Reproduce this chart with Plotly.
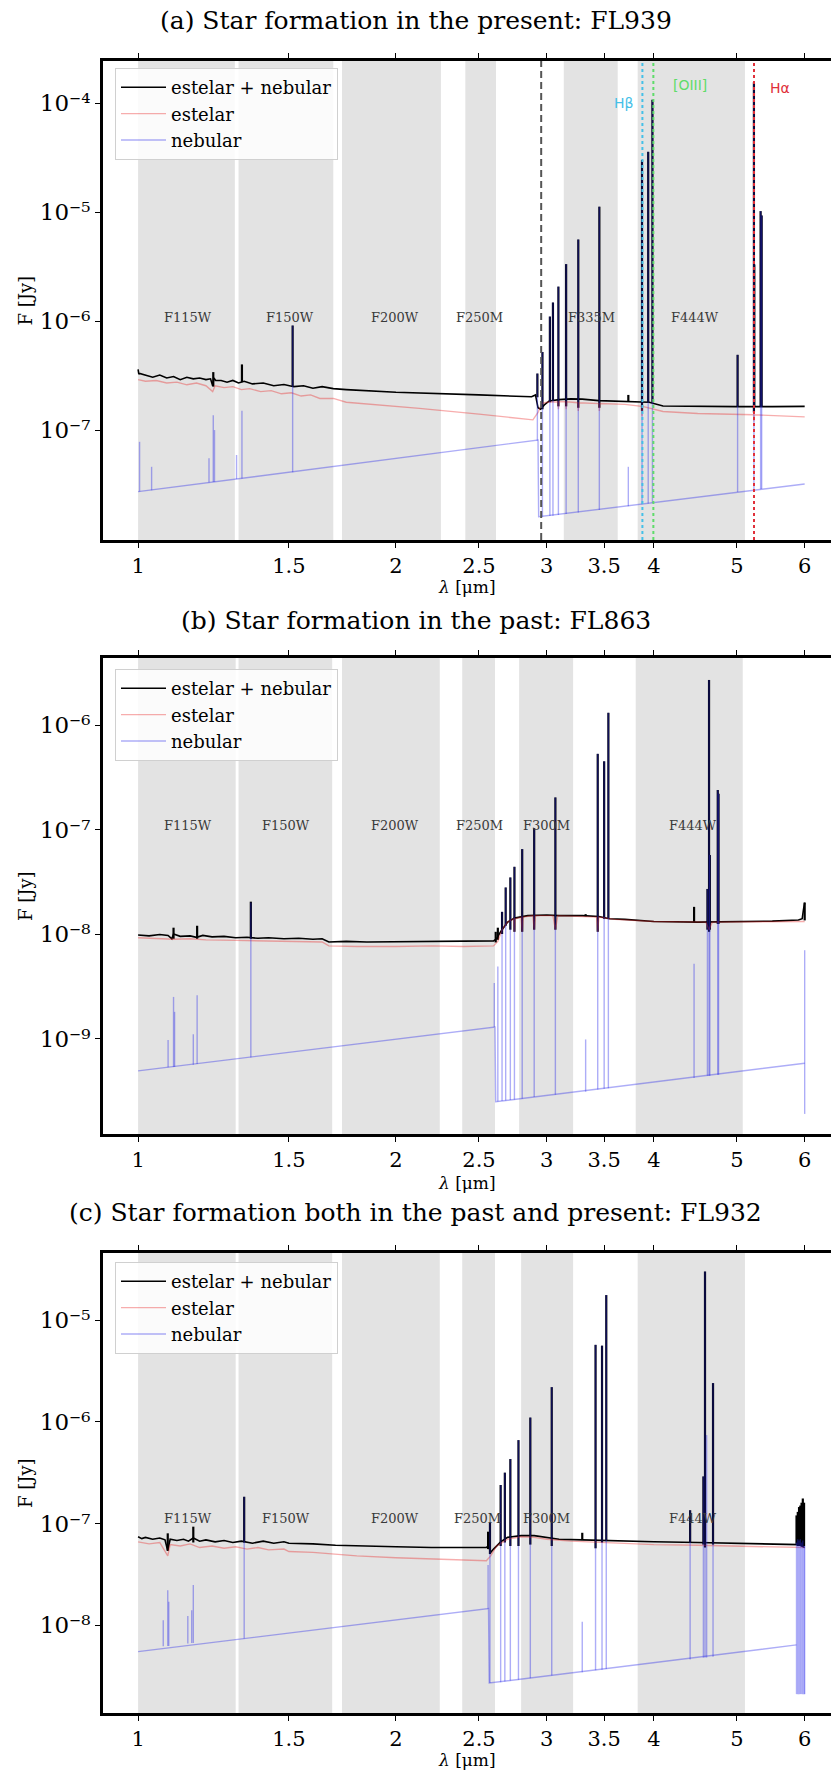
import math
import plotly.graph_objects as go

W, H = 831, 1791

# ---------------- common ----------------
X_LIMITS = [0.91, 6.44]
X_TICKS = [1, 1.5, 2, 2.5, 3, 3.5, 4, 5, 6]
X_TICKTEXT = ["1", "1.5", "2", "2.5", "3", "3.5", "4", "5", "6"]
LEGEND_NAMES = ["estelar + nebular", "estelar", "nebular"]
TITLES = ["(a) Star formation in the present: FL939",
          "(b) Star formation in the past: FL863",
          "(c) Star formation both in the past and present: FL932"]

# ---------------- panel a : FL939 ----------------
A_YLIM = [9.8e-9, 2.43e-4]
A_YTICKS = [1e-7, 1e-6, 1e-5, 1e-4]
A_BAND_LO = [1.0, 1.31, 1.73, 2.41, 3.14, 3.83]
A_BAND_HI = [1.297, 1.69, 2.257, 2.617, 3.63, 5.11]
A_BAND_NAME = ["F115W", "F150W", "F200W", "F250M", "F335M", "F444W"]
A_BAND_LX = [1.144, 1.504, 1.994, 2.506, 3.387, 4.467]
A_BAND_LY = 1.07e-6

A_TOT_WL = [1.000, 1.002, 1.004, 1.02, 1.04, 1.06, 1.08, 1.10, 1.12, 1.14, 1.16, 1.18, 1.20,
            1.215, 1.222, 1.226, 1.232, 1.25, 1.27, 1.29, 1.31, 1.33, 1.36, 1.40, 1.44, 1.48,
            1.52, 1.56, 1.60, 1.64, 1.69, 1.75, 2.0, 2.5, 2.88, 2.91, 2.93, 2.95, 2.98, 3.02,
            3.1, 3.2, 3.3, 3.45, 3.6, 3.8, 3.95, 4.1, 4.5, 5.0, 5.5, 6.0]
A_TOT_F = [3.6e-7, 3.25e-7, 3.3e-7, 3.2e-7, 3.05e-7, 3.2e-7, 3.0e-7, 3.1e-7, 2.9e-7, 3.05e-7,
           2.95e-7, 3.0e-7, 2.9e-7, 2.95e-7, 2.55e-7, 3.0e-7, 2.85e-7, 2.85e-7, 2.75e-7, 2.85e-7,
           2.7e-7, 2.8e-7, 2.65e-7, 2.7e-7, 2.55e-7, 2.62e-7, 2.5e-7, 2.55e-7, 2.42e-7, 2.5e-7,
           2.4e-7, 2.35e-7, 2.22e-7, 2.1e-7, 2.02e-7, 2.1e-7, 1.6e-7, 1.55e-7, 1.7e-7, 1.85e-7,
           1.9e-7, 1.93e-7, 1.92e-7, 1.86e-7, 1.85e-7, 1.83e-7, 1.8e-7, 1.66e-7, 1.64e-7, 1.64e-7,
           1.64e-7, 1.65e-7]
A_STE_WL = [1.0, 1.02, 1.05, 1.08, 1.11, 1.14, 1.17, 1.20, 1.222, 1.23, 1.26, 1.29, 1.32, 1.35,
            1.39, 1.43, 1.47, 1.51, 1.55, 1.59, 1.63, 1.69, 1.75, 2.0, 2.13, 2.5, 2.89, 2.93,
            2.96, 3.0, 3.09, 3.095, 3.10, 3.155, 3.16, 3.165, 3.26, 3.265, 3.27, 3.45, 3.455,
            3.46, 3.7, 3.87, 3.875, 3.88, 4.1, 4.5, 5.0, 5.23, 5.235, 5.24, 6.0]
A_STE_F = [2.9e-7, 2.8e-7, 2.85e-7, 2.7e-7, 2.75e-7, 2.6e-7, 2.7e-7, 2.55e-7, 2.25e-7, 2.55e-7,
           2.45e-7, 2.5e-7, 2.35e-7, 2.4e-7, 2.25e-7, 2.3e-7, 2.15e-7, 2.2e-7, 2.05e-7, 2.1e-7,
           1.95e-7, 1.95e-7, 1.8e-7, 1.65e-7, 1.58e-7, 1.4e-7, 1.24e-7, 1.45e-7, 1.75e-7, 1.8e-7,
           1.82e-7, 1.55e-7, 1.82e-7, 1.82e-7, 1.55e-7, 1.82e-7, 1.78e-7, 1.5e-7, 1.78e-7,
           1.75e-7, 1.5e-7, 1.75e-7, 1.72e-7, 1.65e-7, 1.35e-7, 1.65e-7, 1.48e-7, 1.42e-7,
           1.4e-7, 1.38e-7, 1.2e-7, 1.38e-7, 1.32e-7]
A_NEB_WL = [1.0, 2.93, 2.935, 6.0]
A_NEB_F = [2.72e-8, 8.1e-8, 1.6e-8, 3.2e-8]
A_NEBLINE_WL = [1.004, 1.037, 1.21, 1.224, 1.228, 1.303, 1.322, 1.515, 2.925, 2.965, 3.025,
                3.05, 3.095, 3.16, 3.265, 3.455, 3.735, 3.875, 3.94, 3.985, 5.01, 5.235,
                5.33, 5.345]
A_NEBLINE_BASE = [2.73e-8, 2.8e-8, 3.3e-8, 3.33e-8, 3.34e-8, 3.55e-8, 3.6e-8, 4.1e-8, 8.0e-8,
                  1.6e-8, 1.63e-8, 1.64e-8, 1.66e-8, 1.7e-8, 1.75e-8, 1.85e-8, 2.0e-8, 2.08e-8,
                  2.12e-8, 2.14e-8, 2.7e-8, 2.82e-8, 2.87e-8, 2.88e-8]
A_NEBLINE_PEAK = [7.8e-8, 4.6e-8, 5.5e-8, 1.37e-7, 1.0e-7, 5.9e-8, 1.5e-7, 9.1e-7, 3.3e-7,
                  5.2e-7, 1.1e-6, 1.48e-6, 2.07e-6, 3.33e-6, 5.6e-6, 1.12e-5, 4.6e-8, 3.0e-5,
                  3.57e-5, 1.07e-4, 4.9e-7, 1.55e-4, 1.02e-5, 9.3e-6]
A_TOTLINE_WL = [1.224, 1.322, 1.515, 2.925, 2.965, 3.025, 3.05, 3.095, 3.16, 3.265, 3.455,
                3.735, 3.875, 3.94, 3.985, 5.01, 5.235, 5.24, 5.33, 5.345]
A_TOTLINE_BASE = [2.5e-7, 2.75e-7, 2.5e-7, 2.0e-7, 1.55e-7, 1.8e-7, 1.85e-7, 1.65e-7, 1.65e-7,
                  1.6e-7, 1.6e-7, 1.84e-7, 1.5e-7, 1.8e-7, 1.8e-7, 1.64e-7, 1.45e-7, 1.64e-7,
                  1.64e-7, 1.64e-7]
A_TOTLINE_PEAK = [3.4e-7, 4.0e-7, 9.1e-7, 3.3e-7, 5.2e-7, 1.1e-6, 1.48e-6, 2.07e-6, 3.33e-6,
                  5.6e-6, 1.12e-5, 2.1e-7, 3.0e-5, 3.57e-5, 1.07e-4, 4.9e-7, 1.55e-4, 3.3e-6,
                  1.02e-5, 9.3e-6]
A_BREAK_WL = 2.955
A_MARK_WL = [3.879, 3.995, 5.236]
A_MARK_NAME = ["Hβ", "[OIII]", "Hα"]
A_MARK_COLOR = ["#45c0e8", "#5fdc6a", "#e0303a"]
A_MARK_LX = [3.69, 4.41, 5.61]
A_MARK_LY = [1.0e-4, 1.46e-4, 1.37e-4]

# ---------------- panel b : FL863 ----------------
B_YLIM = [1.22e-10, 4.38e-6]
B_YTICKS = [1e-9, 1e-8, 1e-7, 1e-6]
B_BAND_LO = [1.0, 1.31, 1.73, 2.39, 2.785, 3.81]
B_BAND_HI = [1.30, 1.685, 2.25, 2.61, 3.22, 5.08]
B_BAND_NAME = ["F115W", "F150W", "F200W", "F250M", "F300M", "F444W"]
B_BAND_LX = [1.144, 1.49, 1.994, 2.506, 3.0, 4.44]
B_BAND_LY = 1.1e-7

B_TOT_WL = [1.0, 1.03, 1.06, 1.084, 1.095, 1.10, 1.12, 1.15, 1.17, 1.19, 1.22, 1.26, 1.30,
            1.34, 1.38, 1.42, 1.48, 1.54, 1.60, 1.64, 1.67, 1.75, 1.85, 2.0, 2.13, 2.3, 2.5,
            2.6, 2.62, 2.65, 2.7, 2.75, 2.85, 3.0, 3.1, 3.3, 3.45, 3.55, 3.7, 4.0, 4.5, 5.0,
            5.5, 5.9, 5.96, 5.98, 6.0]
B_TOT_F = [9.8e-9, 9.6e-9, 9.9e-9, 9.7e-9, 9.0e-9, 1.0e-8, 9.5e-9, 9.6e-9, 9.3e-9, 9.7e-9,
           9.4e-9, 9.5e-9, 9.2e-9, 9.3e-9, 9.1e-9, 9.2e-9, 9.0e-9, 9.1e-9, 8.9e-9, 9.0e-9,
           8.4e-9, 8.5e-9, 8.4e-9, 8.45e-9, 8.5e-9, 8.5e-9, 8.5e-9, 8.6e-9, 9.0e-9, 1.05e-8,
           1.3e-8, 1.42e-8, 1.5e-8, 1.52e-8, 1.5e-8, 1.5e-8, 1.47e-8, 1.4e-8, 1.38e-8, 1.32e-8,
           1.3e-8, 1.31e-8, 1.33e-8, 1.36e-8, 1.4e-8, 1.7e-8, 2.0e-8]
B_STE_WL = [1.0, 1.05, 1.1, 1.15, 1.2, 1.3, 1.4, 1.5, 1.64, 1.67, 1.8, 2.0, 2.2, 2.4, 2.6,
            2.63, 2.66, 2.70, 2.745, 2.75, 2.755, 2.80, 2.808, 2.815, 2.89, 2.90, 2.91, 3.05,
            3.07, 3.09, 3.3, 3.43, 3.44, 3.45, 3.6, 4.0, 4.6, 4.64, 4.68, 5.0, 5.5, 6.0]
B_STE_F = [9.2e-9, 9.1e-9, 8.9e-9, 9.0e-9, 8.8e-9, 8.7e-9, 8.6e-9, 8.5e-9, 8.4e-9, 7.7e-9,
           7.6e-9, 7.6e-9, 7.7e-9, 7.6e-9, 7.7e-9, 8.5e-9, 1.1e-8, 1.3e-8, 1.4e-8, 1.05e-8,
           1.4e-8, 1.45e-8, 1.05e-8, 1.45e-8, 1.5e-8, 1.1e-8, 1.5e-8, 1.5e-8, 1.1e-8, 1.5e-8,
           1.48e-8, 1.45e-8, 1.05e-8, 1.45e-8, 1.38e-8, 1.32e-8, 1.3e-8, 1.1e-8, 1.3e-8, 1.3e-8,
           1.32e-8, 1.32e-8]
B_NEB_WL = [1.0, 2.61, 2.615, 6.0]
B_NEB_F = [4.9e-10, 1.29e-9, 2.48e-10, 5.8e-10]
B_NEBLINE_WL = [1.084, 1.10, 1.103, 1.16, 1.172, 1.354, 2.605, 2.63, 2.66, 2.686, 2.72, 2.75,
                2.808, 2.90, 3.07, 3.33, 3.44, 3.50, 3.54, 4.457, 4.62, 4.64, 4.65, 4.75, 4.76,
                6.0]
B_NEBLINE_BASE = [5.3e-10, 5.35e-10, 5.35e-10, 5.6e-10, 5.7e-10, 6.6e-10, 1.29e-9, 2.5e-10,
                  2.52e-10, 2.55e-10, 2.58e-10, 2.6e-10, 2.65e-10, 2.75e-10, 2.9e-10, 3.1e-10,
                  3.25e-10, 3.3e-10, 3.35e-10, 4.2e-10, 4.4e-10, 4.4e-10, 4.4e-10, 4.5e-10,
                  4.5e-10, 1.9e-10]
B_NEBLINE_PEAK = [9.7e-10, 2.5e-9, 1.8e-9, 1.1e-9, 2.6e-9, 2.0e-8, 3.4e-9, 4.9e-9, 1.63e-8,
                  2.79e-8, 3.48e-8, 4.4e-8, 6.5e-8, 1.03e-7, 2.03e-7, 9.8e-10, 5.3e-7, 4.5e-7,
                  1.31e-6, 5.2e-9, 2.7e-8, 2.7e-6, 5.7e-8, 2.39e-7, 2.2e-7, 7.0e-9]
B_TOTLINE_WL = [1.10, 1.172, 1.354, 2.615, 2.63, 2.66, 2.686, 2.72, 2.75, 2.808, 2.90, 3.07,
                3.33, 3.44, 3.50, 3.54, 4.457, 4.62, 4.64, 4.65, 4.75, 4.76, 6.0]
B_TOTLINE_BASE = [9.0e-9, 9.0e-9, 9.0e-9, 8.3e-9, 8.8e-9, 1.0e-8, 1.2e-8, 1.1e-8, 1.05e-8,
                  1.05e-8, 1.1e-8, 1.1e-8, 1.48e-8, 1.05e-8, 1.4e-8, 1.4e-8, 1.3e-8, 1.1e-8,
                  1.05e-8, 1.1e-8, 1.25e-8, 1.25e-8, 1.35e-8]
B_TOTLINE_PEAK = [1.15e-8, 1.2e-8, 2.04e-8, 1.05e-8, 1.15e-8, 1.63e-8, 2.79e-8, 3.48e-8,
                  4.4e-8, 6.5e-8, 1.03e-7, 2.03e-7, 1.55e-8, 5.3e-7, 4.5e-7, 1.31e-6, 1.82e-8,
                  2.7e-8, 2.7e-6, 5.7e-8, 2.39e-7, 2.2e-7, 2.0e-8]

# ---------------- panel c : FL932 ----------------
C_YLIM = [1.37e-9, 4.56e-5]
C_YTICKS = [1e-8, 1e-7, 1e-6, 1e-5]
C_BAND_LO = [1.0, 1.31, 1.73, 2.39, 2.80, 3.83]
C_BAND_HI = [1.30, 1.685, 2.25, 2.61, 3.22, 5.11]
C_BAND_NAME = ["F115W", "F150W", "F200W", "F250M", "F300M", "F444W"]
C_BAND_LX = [1.144, 1.49, 1.994, 2.49, 3.0, 4.44]
C_BAND_LY = 1.13e-7

C_TOT_WL = [1.0, 1.01, 1.02, 1.04, 1.06, 1.075, 1.083, 1.09, 1.11, 1.13, 1.145, 1.16, 1.18,
            1.20, 1.23, 1.26, 1.29, 1.32, 1.36, 1.40, 1.44, 1.48, 1.50, 1.6, 1.7, 1.8, 2.0,
            2.2, 2.4, 2.55, 2.565, 2.58, 2.6, 2.65, 2.7, 2.8, 2.9, 3.0, 3.1, 3.3, 3.5, 3.6,
            4.0, 4.5, 5.0, 5.5, 5.86, 5.9, 5.95, 6.0]
C_TOT_F = [7.4e-8, 7.1e-8, 7.3e-8, 7.0e-8, 7.2e-8, 6.9e-8, 5.4e-8, 7.0e-8, 6.8e-8, 7.0e-8,
           6.7e-8, 7.2e-8, 6.7e-8, 6.9e-8, 6.6e-8, 6.8e-8, 6.5e-8, 6.7e-8, 6.4e-8, 6.7e-8,
           6.4e-8, 6.6e-8, 6.4e-8, 6.3e-8, 6.1e-8, 6.0e-8, 5.9e-8, 5.8e-8, 5.8e-8, 5.8e-8,
           6.0e-8, 5.2e-8, 5.6e-8, 6.6e-8, 7.3e-8, 7.6e-8, 7.6e-8, 7.3e-8, 7.0e-8, 6.9e-8,
           6.8e-8, 6.7e-8, 6.6e-8, 6.5e-8, 6.4e-8, 6.35e-8, 6.3e-8, 6.2e-8, 6.0e-8, 5.8e-8]
C_STE_WL = [1.0, 1.03, 1.06, 1.083, 1.09, 1.12, 1.15, 1.18, 1.22, 1.26, 1.30, 1.34, 1.38,
            1.42, 1.48, 1.50, 1.6, 1.7, 1.8, 2.0, 2.2, 2.4, 2.55, 2.58, 2.62, 2.7, 2.8, 2.9,
            3.0, 3.2, 3.5, 4.0, 4.5, 5.0, 5.5, 6.0]
C_STE_F = [6.6e-8, 6.3e-8, 6.5e-8, 4.8e-8, 6.2e-8, 6.0e-8, 6.3e-8, 5.8e-8, 6.0e-8, 5.7e-8,
           5.9e-8, 5.6e-8, 5.8e-8, 5.5e-8, 5.6e-8, 5.3e-8, 5.2e-8, 5.0e-8, 4.8e-8, 4.6e-8,
           4.5e-8, 4.4e-8, 4.3e-8, 4.8e-8, 6.0e-8, 7.0e-8, 7.4e-8, 7.3e-8, 7.0e-8, 6.7e-8,
           6.5e-8, 6.2e-8, 6.1e-8, 6.0e-8, 5.9e-8, 5.8e-8]
C_NEB_WL = [1.0, 2.565, 2.57, 5.87]
C_NEB_F = [5.5e-9, 1.46e-8, 2.7e-9, 6.4e-9]
C_NEBLINE_WL = [1.07, 1.083, 1.086, 1.143, 1.155, 1.16, 1.33, 2.562, 2.575, 2.65, 2.68, 2.72,
                2.78, 2.87, 3.04, 3.30, 3.42, 3.48, 3.52, 4.41, 4.57, 4.59, 4.61, 4.69, 5.87,
                5.89, 5.91, 5.93, 5.95, 5.97, 5.99, 6.0]
C_NEBLINE_BASE = [6.2e-9, 6.25e-9, 6.25e-9, 6.6e-9, 6.7e-9, 6.7e-9, 7.4e-9, 1.45e-8, 2.7e-9,
                  2.75e-9, 2.8e-9, 2.85e-9, 2.9e-9, 3.0e-9, 3.2e-9, 3.45e-9, 3.6e-9, 3.65e-9,
                  3.7e-9, 4.6e-9, 4.8e-9, 4.8e-9, 4.8e-9, 4.9e-9, 2.1e-9, 2.1e-9, 2.1e-9,
                  2.1e-9, 2.1e-9, 2.1e-9, 2.1e-9, 2.1e-9]
C_NEBLINE_PEAK = [1.12e-8, 2.21e-8, 1.7e-8, 1.23e-8, 1.4e-8, 2.48e-8, 1.83e-7, 3.9e-8,
                  1.02e-7, 2.39e-7, 3.16e-7, 4.3e-7, 6.6e-7, 1.1e-6, 2.19e-6, 1.08e-8, 5.7e-6,
                  5.6e-6, 1.76e-5, 1.35e-7, 2.9e-7, 3.0e-5, 7.4e-7, 2.4e-6, 6.5e-8, 7.0e-8,
                  6.8e-8, 7.0e-8, 6.5e-8, 6.8e-8, 6.0e-8, 6.0e-8]
C_TOTLINE_WL = [1.083, 1.16, 1.33, 2.562, 2.575, 2.65, 2.68, 2.72, 2.78, 2.87, 3.04, 3.30,
                3.42, 3.48, 3.52, 4.41, 4.57, 4.59, 4.69, 5.87, 5.89, 5.91, 5.93, 5.95, 5.97,
                5.99]
C_TOTLINE_BASE = [5.4e-8, 6.5e-8, 6.5e-8, 5.6e-8, 5.0e-8, 6.0e-8, 6.5e-8, 6.0e-8, 6.0e-8,
                  6.2e-8, 6.0e-8, 6.9e-8, 5.7e-8, 6.5e-8, 6.7e-8, 6.5e-8, 6.2e-8, 5.8e-8,
                  6.2e-8, 6.3e-8, 6.0e-8, 6.0e-8, 6.0e-8, 6.0e-8, 6.0e-8, 6.0e-8]
C_TOTLINE_PEAK = [8.0e-8, 9.3e-8, 1.83e-7, 8.3e-8, 1.02e-7, 2.39e-7, 3.16e-7, 4.3e-7, 6.6e-7,
                  1.1e-6, 2.19e-6, 8.1e-8, 5.7e-6, 5.6e-6, 1.76e-5, 1.35e-7, 2.9e-7, 3.0e-5,
                  2.4e-6, 1.2e-7, 1.3e-7, 1.45e-7, 1.5e-7, 1.6e-7, 1.76e-7, 1.6e-7]

# ---------------- layout geometry (pixels) ----------------
PLOT_LEFT = 103
PANEL_TOP = [61, 658, 1253]
PANEL_BOT = [540, 1134, 1713]
TITLE_Y = [21, 620, 1212]
XLABEL_Y = [587, 1183, 1760]
LEGEND_TOP = [68, 669, 1262]

SERIF = "DejaVu Serif"
BLACK = "#000000"
RED = "rgba(235,40,40,0.38)"
BLUE = "rgba(40,40,235,0.38)"
BAND = "#e3e3e3"
SUPERS = {"0": "\u2070", "1": "\u00b9", "2": "\u00b2", "3": "\u00b3", "4": "\u2074",
          "5": "\u2075", "6": "\u2076", "7": "\u2077", "8": "\u2078", "9": "\u2079",
          "-": "\u207b"}


def py(p):
    return 1 - p / H


def segments(wl, base, peak):
    xs, ys = [], []
    for w, b, p in zip(wl, base, peak):
        xs += [w, w, None]
        ys += [b, p, None]
    return xs, ys


def sup_label(v):
    e = int(round(math.log10(v)))
    return "10" + "".join(SUPERS[c] for c in str(e))


panels = [
    dict(ylim=A_YLIM, yticks=A_YTICKS, blo=A_BAND_LO, bhi=A_BAND_HI, bname=A_BAND_NAME,
         blx=A_BAND_LX, bly=A_BAND_LY, tw=A_TOT_WL, tf=A_TOT_F, sw=A_STE_WL, sf=A_STE_F,
         nw=A_NEB_WL, nf=A_NEB_F, nlw=A_NEBLINE_WL, nlb=A_NEBLINE_BASE, nlp=A_NEBLINE_PEAK,
         tlw=A_TOTLINE_WL, tlb=A_TOTLINE_BASE, tlp=A_TOTLINE_PEAK),
    dict(ylim=B_YLIM, yticks=B_YTICKS, blo=B_BAND_LO, bhi=B_BAND_HI, bname=B_BAND_NAME,
         blx=B_BAND_LX, bly=B_BAND_LY, tw=B_TOT_WL, tf=B_TOT_F, sw=B_STE_WL, sf=B_STE_F,
         nw=B_NEB_WL, nf=B_NEB_F, nlw=B_NEBLINE_WL, nlb=B_NEBLINE_BASE, nlp=B_NEBLINE_PEAK,
         tlw=B_TOTLINE_WL, tlb=B_TOTLINE_BASE, tlp=B_TOTLINE_PEAK),
    dict(ylim=C_YLIM, yticks=C_YTICKS, blo=C_BAND_LO, bhi=C_BAND_HI, bname=C_BAND_NAME,
         blx=C_BAND_LX, bly=C_BAND_LY, tw=C_TOT_WL, tf=C_TOT_F, sw=C_STE_WL, sf=C_STE_F,
         nw=C_NEB_WL, nf=C_NEB_F, nlw=C_NEBLINE_WL, nlb=C_NEBLINE_BASE, nlp=C_NEBLINE_PEAK,
         tlw=C_TOTLINE_WL, tlb=C_TOTLINE_BASE, tlp=C_TOTLINE_PEAK),
]

fig = go.Figure()
shapes = []
annotations = []
layout = dict(
    width=W, height=H, margin=dict(l=0, r=0, t=0, b=0),
    paper_bgcolor="white", plot_bgcolor="white", showlegend=True,
    font=dict(family=SERIF, color="black"),
)

for i, p in enumerate(panels):
    n = i + 1
    xa = "x" if n == 1 else "x%d" % n
    ya = "y" if n == 1 else "y%d" % n
    lg = "legend" if n == 1 else "legend%d" % n

    fig.add_trace(go.Scatter(x=p["tw"], y=p["tf"], mode="lines", name=LEGEND_NAMES[0],
                             line=dict(color=BLACK, width=1.6), xaxis=xa, yaxis=ya,
                             legend=lg, hoverinfo="skip"))
    sx, sy = segments(p["tlw"], p["tlb"], p["tlp"])
    fig.add_trace(go.Scatter(x=sx, y=sy, mode="lines", showlegend=False,
                             line=dict(color=BLACK, width=2.2), xaxis=xa, yaxis=ya,
                             connectgaps=False, hoverinfo="skip"))
    fig.add_trace(go.Scatter(x=p["sw"], y=p["sf"], mode="lines", name=LEGEND_NAMES[1],
                             line=dict(color=RED, width=1.4), xaxis=xa, yaxis=ya,
                             legend=lg, hoverinfo="skip"))
    fig.add_trace(go.Scatter(x=p["nw"], y=p["nf"], mode="lines", name=LEGEND_NAMES[2],
                             line=dict(color=BLUE, width=1.4), xaxis=xa, yaxis=ya,
                             legend=lg, hoverinfo="skip"))
    sx, sy = segments(p["nlw"], p["nlb"], p["nlp"])
    fig.add_trace(go.Scatter(x=sx, y=sy, mode="lines", showlegend=False,
                             line=dict(color=BLUE, width=1.4), xaxis=xa, yaxis=ya,
                             connectgaps=False, hoverinfo="skip"))

    # filter bands
    for lo, hi in zip(p["blo"], p["bhi"]):
        shapes.append(dict(type="rect", xref=xa, yref=ya + " domain", x0=lo, x1=hi,
                           y0=0, y1=1, fillcolor=BAND, line=dict(width=0), layer="below"))
    for name, lx in zip(p["bname"], p["blx"]):
        annotations.append(dict(text=name, x=math.log10(lx), y=math.log10(p["bly"]),
                                xref=xa, yref=ya, showarrow=False,
                                font=dict(family=SERIF, size=13, color="#3a3a3a")))

    top, bot = PANEL_TOP[i], PANEL_BOT[i]
    xkey = "xaxis" if n == 1 else "xaxis%d" % n
    ykey = "yaxis" if n == 1 else "yaxis%d" % n
    layout[xkey] = dict(
        type="log", range=[math.log10(X_LIMITS[0]), math.log10(X_LIMITS[1])],
        domain=[PLOT_LEFT / W, 1.0], anchor=ya, tickvals=X_TICKS, ticktext=X_TICKTEXT,
        ticks="outside", ticklen=5, tickwidth=1, tickcolor="black",
        showline=True, linewidth=3, linecolor="black", mirror="ticks",
        showgrid=False, zeroline=False,
        tickfont=dict(family=SERIF, size=21, color="black"))
    layout[ykey] = dict(
        type="log", range=[math.log10(p["ylim"][0]), math.log10(p["ylim"][1])],
        domain=[py(bot), py(top)], anchor=xa, tickvals=p["yticks"],
        ticktext=[sup_label(v) for v in p["yticks"]],
        ticks="outside", ticklen=5, tickwidth=1, tickcolor="black",
        showline=True, linewidth=3, linecolor="black", mirror=False,
        showgrid=False, zeroline=False,
        tickfont=dict(family=SERIF, size=23, color="black"))
    layout[lg] = dict(
        x=115 / W, y=py(LEGEND_TOP[i]), xanchor="left", yanchor="top",
        bgcolor="rgba(255,255,255,0.85)", bordercolor="#d0d0d0", borderwidth=1,
        font=dict(family=SERIF, size=18, color="black"), tracegroupgap=0,
        itemwidth=45)

    annotations.append(dict(text=TITLES[i], x=0.5, y=py(TITLE_Y[i]), xref="paper",
                            yref="paper", showarrow=False, xanchor="center",
                            yanchor="middle", font=dict(family=SERIF, size=25)))
    annotations.append(dict(text="<i>λ</i> [μm]", x=(PLOT_LEFT + W) / 2 / W,
                            y=py(XLABEL_Y[i]), xref="paper", yref="paper",
                            showarrow=False, yanchor="middle",
                            font=dict(family=SERIF, size=17)))
    annotations.append(dict(text="F [Jy]", x=25 / W, y=py((top + bot) / 2), xref="paper",
                            yref="paper", showarrow=False, textangle=-90,
                            xanchor="center", yanchor="middle",
                            font=dict(family=SERIF, size=18)))

# panel a markers
shapes.append(dict(type="line", xref="x", yref="y domain", x0=A_BREAK_WL, x1=A_BREAK_WL,
                   y0=0, y1=1, line=dict(color="#555555", width=2, dash="7px,4px")))
for wl, nm, col, lx, ly in zip(A_MARK_WL, A_MARK_NAME, A_MARK_COLOR, A_MARK_LX, A_MARK_LY):
    shapes.append(dict(type="line", xref="x", yref="y domain", x0=wl, x1=wl, y0=0, y1=1,
                       line=dict(color=col, width=2, dash="dot")))
    annotations.append(dict(text=nm, x=math.log10(lx), y=math.log10(ly), xref="x", yref="y",
                            showarrow=False,
                            font=dict(family="DejaVu Sans", size=14, color=col)))

layout["shapes"] = shapes
layout["annotations"] = annotations
fig.update_layout(**layout)
fig.write_html("out.html")
